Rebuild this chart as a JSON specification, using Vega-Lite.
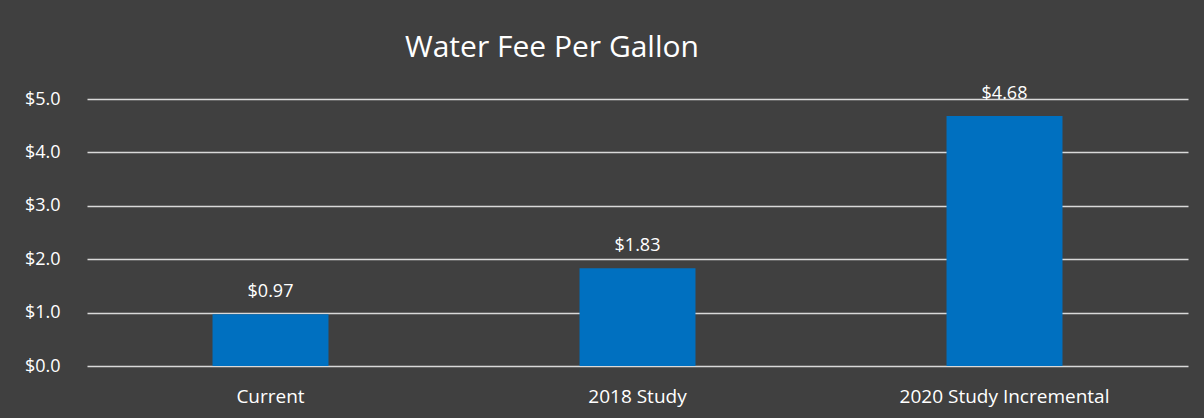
{
  "$schema": "https://vega.github.io/schema/vega-lite/v6.json",
  "autosize": {"type": "none"},
  "padding": {"left": 87, "top": 99, "right": 16, "bottom": 52},
  "width": 1101,
  "height": 267,
  "background": "#404040",
  "title": {
    "text": "Water Fee Per Gallon",
    "anchor": "start",
    "frame": "group",
    "dx": 318,
    "offset": 22,
    "font": "Open Sans",
    "fontSize": 30,
    "fontWeight": "normal",
    "color": "#ffffff"
  },
  "config": {
    "view": {"stroke": null},
    "font": "Open Sans"
  },
  "data": {
    "values": [
      {"category": "Current", "fee": 0.97},
      {"category": "2018 Study", "fee": 1.83},
      {"category": "2020 Study Incremental", "fee": 4.68}
    ]
  },
  "encoding": {
    "x": {
      "field": "category",
      "type": "nominal",
      "sort": null,
      "scale": {"paddingInner": 0.684, "paddingOuter": 0.342},
      "axis": {
        "title": null,
        "labelAngle": 0,
        "labelColor": "#ffffff",
        "labelFontSize": 19,
        "labelFont": "Open Sans",
        "labelBaseline": "alphabetic",
        "labelPadding": 36,
        "labelLimit": 400,
        "labelOverlap": false,
        "ticks": false,
        "domain": false,
        "grid": false
      }
    },
    "y": {
      "field": "fee",
      "type": "quantitative",
      "scale": {"domain": [0, 5], "nice": false},
      "axis": {
        "title": null,
        "values": [0, 1, 2, 3, 4, 5],
        "format": "$.1f",
        "labelColor": "#ffffff",
        "labelFontSize": 18,
        "labelFont": "Open Sans",
        "labelPadding": 27,
        "ticks": false,
        "domain": false,
        "grid": true,
        "gridColor": "#d9d9d9",
        "gridWidth": 1.5
      }
    }
  },
  "layer": [
    {"mark": {"type": "bar", "color": "#0070C0"}},
    {
      "mark": {"type": "text", "dy": -17, "baseline": "alphabetic", "color": "#ffffff", "fontSize": 18, "font": "Open Sans"},
      "encoding": {"text": {"field": "fee", "type": "quantitative", "format": "$.2f"}}
    }
  ]
}
